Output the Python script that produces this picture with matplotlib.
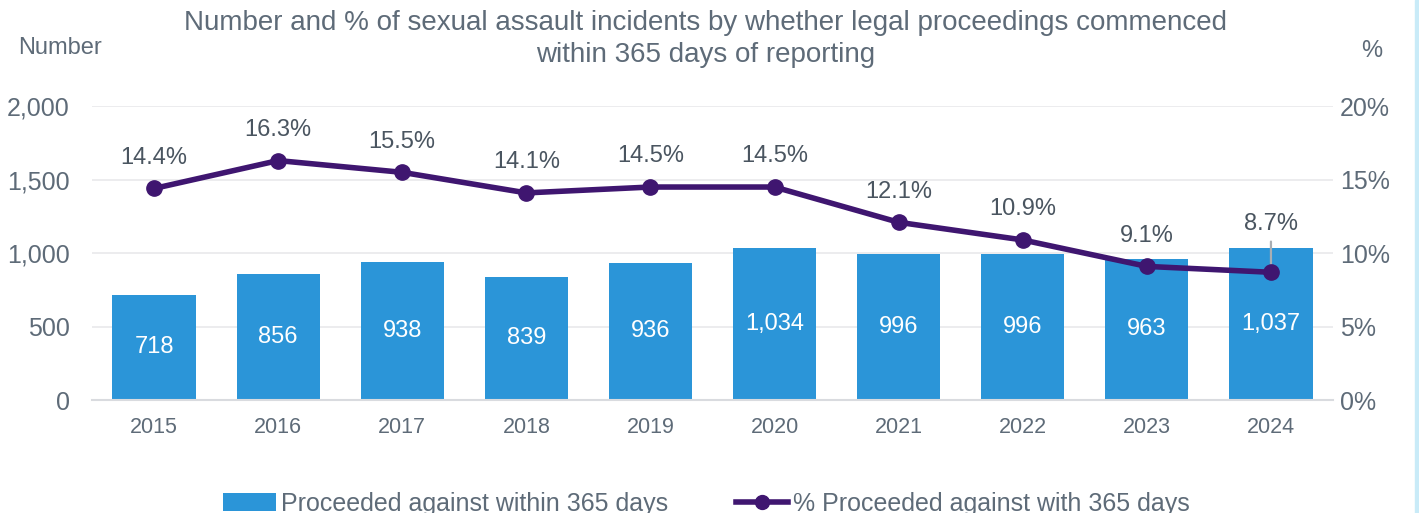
import matplotlib
matplotlib.use("Agg")
import matplotlib.pyplot as plt
from matplotlib.lines import Line2D
from matplotlib.patches import Patch

years = ["2015", "2016", "2017", "2018", "2019", "2020", "2021", "2022", "2023", "2024"]
counts = [718, 856, 938, 839, 936, 1034, 996, 996, 963, 1037]
pcts = [14.4, 16.3, 15.5, 14.1, 14.5, 14.5, 12.1, 10.9, 9.1, 8.7]

BAR = "#2B95D8"
LINE = "#3F1670"
TXT = "#5E6B78"
LBL = "#4A5560"
GRID = "#E9E9EB"

plt.rcParams['font.family'] = ['Liberation Sans', 'DejaVu Sans']

fig = plt.figure(figsize=(14.19, 5.13), dpi=100)
ax = fig.add_axes([0.0648, 0.220, 0.8746, 0.573])
ax2 = ax.twinx()

x = list(range(len(years)))
ax.bar(x, counts, width=0.67, color=BAR, zorder=2)
for xi, c in zip(x, counts):
    ax.text(xi, c / 2, f"{c:,}", ha="center", va="center", color="white", fontsize=17, zorder=3)

ax.set_ylim(0, 2000)
ax.set_xlim(-0.5, 9.5)
ax.set_yticks([0, 500, 1000, 1500, 2000])
ax.set_yticklabels(["0", "500", "1,000", "1,500", "2,000"])
ax.set_xticks(x)
ax.set_xticklabels(years)
ax.grid(axis="y", color=GRID, linewidth=1.2, zorder=0)
ax.set_axisbelow(True)
for s in ["top", "right", "left"]:
    ax.spines[s].set_visible(False)
ax.spines["bottom"].set_color("#D9DBDF")
ax.spines["bottom"].set_linewidth(1.5)
ax.tick_params(axis="y", length=0, colors=TXT, labelsize=18, pad=16)
ax.tick_params(axis="x", length=0, colors=TXT, labelsize=15.5, pad=12)

ax2.plot(x, pcts, color=LINE, linewidth=4, marker="o", markersize=11, zorder=4, clip_on=False)
ax2.set_ylim(0, 20)
ax2.set_yticks([0, 5, 10, 15, 20])
ax2.set_yticklabels(["0%", "5%", "10%", "15%", "20%"])
for s in ["top", "right", "left", "bottom"]:
    ax2.spines[s].set_visible(False)
ax2.tick_params(axis="y", length=0, colors=TXT, labelsize=18, pad=5)

for xi, p in zip(x, pcts):
    if xi == 9:
        ax2.annotate(f"{p:.1f}%", xy=(xi, p), xytext=(0, 35), textcoords="offset points",
                     ha="center", va="center", color=LBL, fontsize=17, zorder=3,
                     arrowprops=dict(arrowstyle="-", color="#A9AEB3", lw=1.6, shrinkA=3, shrinkB=0))
    else:
        ax2.annotate(f"{p:.1f}%", xy=(xi, p), xytext=(0, 22), textcoords="offset points",
                     ha="center", va="center", color=LBL, fontsize=17)

fig.text(0.497, 0.924, "Number and % of sexual assault incidents by whether legal proceedings commenced\nwithin 365 days of reporting",
         ha="center", va="center", color=TXT, fontsize=20, linespacing=1.3)
fig.text(0.042, 0.906, "Number", ha="center", va="center", color=TXT, fontsize=17)
fig.text(0.967, 0.900, "%", ha="center", va="center", color=TXT, fontsize=17)

handles = [Patch(facecolor=BAR, edgecolor="none"),
           Line2D([0], [0], color=LINE, lw=4, marker="o", markersize=10)]
fig.legend(handles, ["Proceeded against within 365 days", "% Proceeded against with 365 days"],
           loc="center", bbox_to_anchor=(0.498, 0.018), ncol=2, frameon=False,
           fontsize=18, labelcolor=TXT, columnspacing=2.7, handlelength=2.1, handletextpad=0.2)

fig.patches.append(plt.Rectangle((0.997, 0), 0.003, 1, transform=fig.transFigure, color="#C9EBF8"))

fig.savefig("out.png", dpi=100)
